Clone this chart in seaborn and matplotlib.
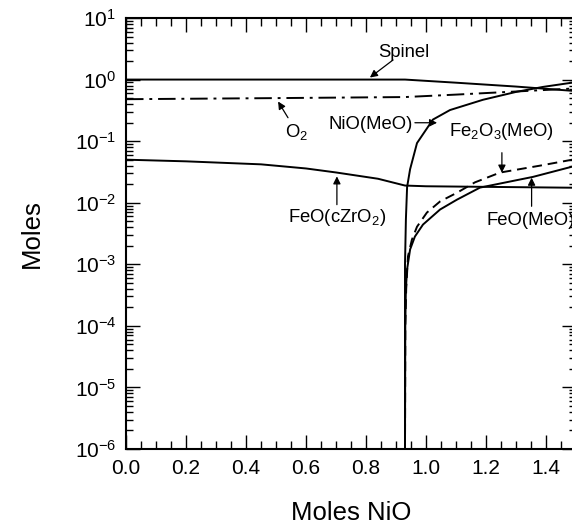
import numpy as np
import pandas as pd
import matplotlib
matplotlib.use("Agg")
import matplotlib.pyplot as plt
from matplotlib.ticker import MultipleLocator, LogLocator, LogFormatterSciNotation, NullFormatter
import seaborn as sns

# ---- data ----
spinel_x = [0.0, 0.3, 0.6, 0.93, 1.1, 1.3, 1.5]
spinel_y = [1.0, 1.0, 1.0, 1.0, 0.89, 0.77, 0.65]

o2_x = [0.0, 0.5, 0.93, 1.1, 1.3, 1.5]
o2_y = [0.48, 0.50, 0.52, 0.57, 0.64, 0.72]

nio_x = [0.930, 0.930, 0.933, 0.937, 0.947, 0.97, 1.023, 1.08, 1.19, 1.30, 1.39, 1.5]
nio_y = [1e-6, 1e-3, 5.4e-3, 0.018, 0.035, 0.093, 0.224, 0.32, 0.47, 0.63, 0.76, 0.91]

feo_me_x = [0.930, 0.931, 0.933, 0.937, 0.947, 0.963, 0.99, 1.047, 1.103, 1.18, 1.357, 1.5]
feo_me_y = [1e-6, 1e-4, 4e-4, 8.3e-4, 1.74e-3, 2.82e-3, 4.42e-3, 7.76e-3, 0.0112, 0.0176, 0.0263, 0.040]

fe2o3_x = [0.930, 0.931, 0.934, 0.94, 0.953, 0.97, 1.003, 1.047, 1.103, 1.163, 1.247, 1.38, 1.5]
fe2o3_y = [1e-6, 1e-4, 4e-4, 1.35e-3, 2.51e-3, 4.07e-3, 6.92e-3, 0.0105, 0.0145, 0.0214, 0.0309, 0.040, 0.0513]

feo_zr_x = [0.0, 0.2, 0.45, 0.6, 0.7, 0.84, 0.93, 1.0, 1.5]
feo_zr_y = [0.050, 0.047, 0.042, 0.036, 0.031, 0.0245, 0.019, 0.0185, 0.0175]

ytick_vals = [1e-6, 1e-5, 1e-4, 1e-3, 1e-2, 1e-1, 1e0, 1e1]
xtick_vals = [0.0, 0.2, 0.4, 0.6, 0.8, 1.0, 1.2, 1.4]

# ---- style ----
sns.set_style("ticks")
plt.rcParams["font.family"] = ["Liberation Sans", "DejaVu Sans"]
plt.rcParams["mathtext.fontset"] = "custom"
plt.rcParams["mathtext.rm"] = "Liberation Sans"
plt.rcParams["mathtext.it"] = "Liberation Sans:italic"
plt.rcParams["mathtext.bf"] = "Liberation Sans:bold"
plt.rcParams["text.color"] = "black"
plt.rcParams["axes.labelcolor"] = "black"
plt.rcParams["xtick.color"] = "black"
plt.rcParams["ytick.color"] = "black"

fig = plt.figure(figsize=(5.72, 5.26), dpi=100)
ax = fig.add_axes([126 / 572, 1 - 449 / 526, 450 / 572, 431 / 526])
ax.set_yscale("log")

lw = 1.4
def line(xs, ys, **kw):
    df = pd.DataFrame({"x": xs, "y": ys})
    sns.lineplot(data=df, x="x", y="y", ax=ax, estimator=None, sort=False,
                 errorbar=None, color="black", lw=lw, legend=False, **kw)

line(spinel_x, spinel_y)
line(o2_x, o2_y, linestyle=(0, (9, 3, 1.5, 3)))
line(nio_x, nio_y)
line(feo_me_x, feo_me_y)
line(fe2o3_x, fe2o3_y, linestyle=(0, (5, 3)))
line(feo_zr_x, feo_zr_y)

ax.set_xlim(0, 1.5)
ax.set_ylim(1e-6, 1e1)
ax.set_xticks(xtick_vals)
ax.xaxis.set_minor_locator(MultipleLocator(0.05))
ax.set_xticklabels([f"{v:.1f}" for v in xtick_vals])
ax.set_yticks(ytick_vals)
ax.yaxis.set_major_formatter(LogFormatterSciNotation())
ax.yaxis.set_minor_locator(LogLocator(base=10, subs=np.arange(2, 10) * 1.0, numticks=20))
ax.yaxis.set_minor_formatter(NullFormatter())

ax.tick_params(which="both", direction="in", top=True, right=True, width=1.0,
               colors="black", labelcolor="black")
ax.tick_params(which="major", length=10, labelsize=15, pad=7)
ax.tick_params(which="minor", length=5.5)
ax.tick_params(axis="y", which="minor", length=5)
for s in ax.spines.values():
    s.set_linewidth(1.5)
    s.set_color("black")

ax.set_xlabel("Moles NiO", fontsize=18.5, labelpad=17, color="black")
ax.set_ylabel("Moles", fontsize=18.5, labelpad=22, color="black")

# ---- annotations ----
fs = 13.3
arrow = dict(arrowstyle="-|>", color="black", lw=0.9, mutation_scale=11, shrinkA=0, shrinkB=0)

ax.text(0.927, 2.36, "Spinel", fontsize=fs, ha="center", va="baseline", color="black")
ax.annotate("", xy=(0.813, 1.08), xytext=(0.89, 2.08), arrowprops=arrow)

ax.text(0.567, 0.118, "O$_2$", fontsize=fs, ha="center", va="baseline", color="black")
ax.annotate("", xy=(0.507, 0.44), xytext=(0.54, 0.24), arrowprops=arrow)

ax.text(0.815, 0.156, "NiO(MeO)", fontsize=fs, ha="center", va="baseline", color="black")
ax.annotate("", xy=(1.037, 0.199), xytext=(0.963, 0.199), arrowprops=arrow)

ax.text(1.252, 0.119, "Fe$_2$O$_3$(MeO)", fontsize=fs, ha="center", va="baseline", color="black")
ax.annotate("", xy=(1.253, 0.0308), xytext=(1.253, 0.0649), arrowprops=arrow)

ax.text(0.702, 0.00481, "FeO(cZrO$_2$)", fontsize=fs, ha="center", va="baseline", color="black")
ax.annotate("", xy=(0.703, 0.0268), xytext=(0.703, 0.0093), arrowprops=arrow)

ax.text(1.202, 0.00442, "FeO(MeO)", fontsize=fs, ha="left", va="baseline", color="black")
ax.annotate("", xy=(1.352, 0.0255), xytext=(1.352, 0.00875), arrowprops=arrow)

fig.savefig("out.png", dpi=100)
